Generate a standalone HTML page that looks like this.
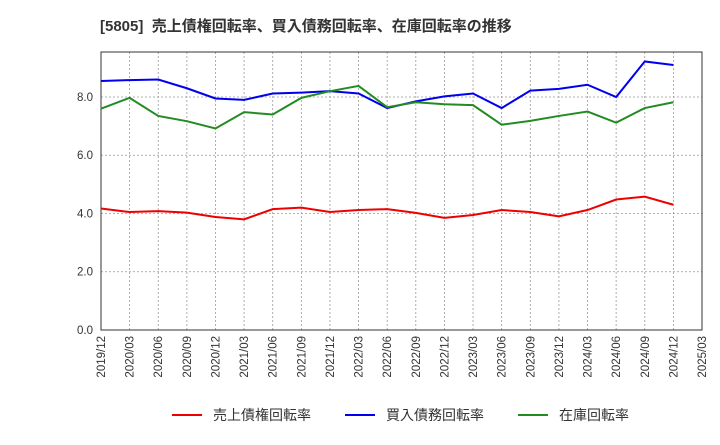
<!DOCTYPE html>
<html><head><meta charset="utf-8"><style>
body{margin:0;background:#fff;font-family:"Liberation Sans","Noto Sans CJK JP",sans-serif}
</style></head><body>
<svg id="c" width="720" height="440" xmlns="http://www.w3.org/2000/svg">
<text x="100" y="31" font-size="15" font-weight="bold" fill="#333" style="white-space:pre" font-family="Liberation Sans,Noto Sans CJK JP,sans-serif">[5805]  売上債権回転率、買入債務回転率、在庫回転率の推移</text>
<g id="grid"></g><g id="axes"></g><g id="series"></g>
<g font-size="14" fill="#333">
<line x1="172" y1="415" x2="202" y2="415" stroke="#e00" stroke-width="2"/>
<text x="213" y="420">売上債権回転率</text>
<line x1="345" y1="415" x2="375" y2="415" stroke="#00e" stroke-width="2"/>
<text x="386" y="420">買入債務回転率</text>
<line x1="518" y1="415" x2="548" y2="415" stroke="#228b22" stroke-width="2"/>
<text x="559" y="420">在庫回転率</text>
</g>
</svg>
<script>
const categories=["2019/12","2020/03","2020/06","2020/09","2020/12","2021/03","2021/06","2021/09","2021/12","2022/03","2022/06","2022/09","2022/12","2023/03","2023/06","2023/09","2023/12","2024/03","2024/06","2024/09","2024/12","2025/03"];
const receivables=[4.17,4.05,4.08,4.03,3.88,3.80,4.15,4.20,4.05,4.12,4.15,4.02,3.85,3.95,4.12,4.05,3.90,4.12,4.48,4.58,4.30];
const payables=[8.55,8.58,8.60,8.30,7.95,7.90,8.12,8.15,8.20,8.12,7.62,7.85,8.02,8.12,7.62,8.22,8.28,8.42,8.00,9.22,9.10];
const inventory=[7.60,7.97,7.35,7.17,6.92,7.48,7.40,7.97,8.20,8.38,7.65,7.82,7.75,7.72,7.05,7.18,7.35,7.50,7.12,7.62,7.82];
const yTicks=[0,2,4,6,8];
const X0=101,X1=702,Y0=330,Y1=52,YMAX=9.545;
const ns="http://www.w3.org/2000/svg";
const xs=i=>X0+(X1-X0)*i/(categories.length-1);
const ys=v=>Y0-(Y0-Y1)*v/YMAX;
function mk(t,a,p){const e=document.createElementNS(ns,t);for(const k in a)e.setAttribute(k,a[k]);p.appendChild(e);return e;}
const grid=document.getElementById('grid'),axes=document.getElementById('axes'),ser=document.getElementById('series');
categories.forEach((c,i)=>{
 const l=mk('line',{x1:xs(i),x2:xs(i),y1:Y1,y2:Y0,stroke:'#999','stroke-dasharray':'2,2','stroke-width':0.8},grid);
 
 
 const x=xs(i),t=mk('text',{x:x+4,y:Y0+6,'font-size':11.5,fill:'#333','text-anchor':'end',transform:`rotate(-90 ${x+4} ${Y0+6})`},axes);
 t.textContent=c;
 
 
});
yTicks.forEach(v=>{
 const l=mk('line',{x1:X0,x2:X1,y1:ys(v),y2:ys(v),stroke:'#999','stroke-dasharray':'2,2','stroke-width':0.8},grid);
 
 
 const t=mk('text',{x:X0-8,y:ys(v)+4,'font-size':11.5,fill:'#333','text-anchor':'end'},axes);
 t.textContent=v.toFixed(1);
 
 
});
const fr=mk('rect',{x:X0,y:Y1,width:X1-X0,height:Y0-Y1,fill:'none',stroke:'#333','stroke-width':1},axes);


[[receivables,'#e00','receivables-line'],[payables,'#00e','payables-line'],[inventory,'#228b22','inventory-line']].forEach(([d,c,n])=>{
 const p=mk('polyline',{points:d.map((v,i)=>xs(i)+','+ys(v)).join(' '),fill:'none',stroke:c,'stroke-width':2},ser);
 
 
});
</script>
</body></html>
